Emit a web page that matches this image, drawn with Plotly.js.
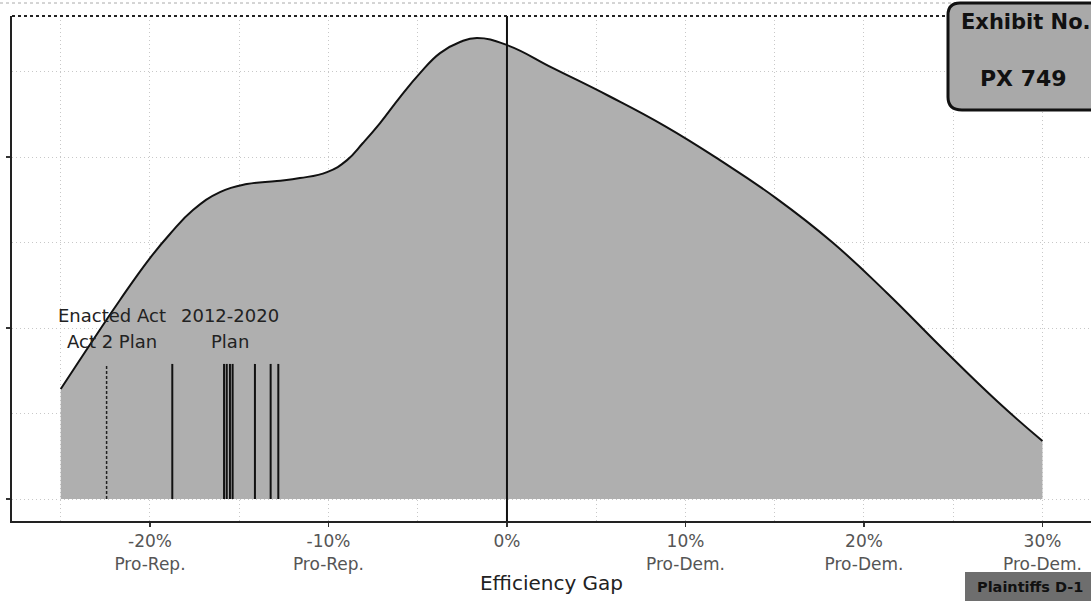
<!DOCTYPE html>
<html>
<head>
<meta charset="utf-8">
<script src="https://cdn.plot.ly/plotly-3.0.1.min.js"></script>
<style>html,body{margin:0;padding:0;background:#fff;}#chart{width:1091px;height:602px;}</style>
</head>
<body>
<div id="chart"></div>
<script>
// Efficiency gap (%) and density (per percentage point)
const gapX = [-25, -23.19, -21.68, -20.0, -18.88, -17.59, -16.08, -14.57, -12.89, -11.60, -10.08, -8.96, -8.07, -7.11, -5.99, -4.87, -3.75, -2.63, -1.68, 0, 2.58, 5.71, 8.85, 11.93, 15.07, 18.21, 21.29, 24.43, 27.51, 30.0];
const density = [0.00643, 0.00930, 0.01164, 0.01409, 0.01550, 0.01690, 0.01795, 0.01842, 0.01860, 0.01877, 0.01912, 0.01982, 0.02082, 0.02199, 0.02351, 0.02491, 0.02608, 0.02673, 0.02696, 0.02655, 0.02520, 0.02357, 0.02181, 0.01982, 0.01760, 0.01503, 0.01205, 0.00877, 0.00567, 0.00339];

// Plan efficiency gaps (vertical markers)
const enactedPlan = [-22.43];
const otherPlans = [-18.75, -15.85, -15.70, -15.52, -15.37, -14.12, -13.24, -12.81];
const markerTop = 0.0079;

// Axis ticks
const xTickVals = [-20, -10, 0, 10, 20, 30];
const xTickText = ['-20%<br>Pro-Rep.', '-10%<br>Pro-Rep.', '0%', '10%<br>Pro-Dem.', '20%<br>Pro-Dem.', '30%<br>Pro-Dem.'];
const xMinorVals = [-25, -15, -5, 5, 15, 25];
const yTickVals = [0, 0.01, 0.02];
const yMinorVals = [0.005, 0.015, 0.025];

function segs(xs, top) {
  const X = [], Y = [];
  xs.forEach(v => { X.push(v, v, null); Y.push(0, top, null); });
  return {X, Y};
}
const e = segs(enactedPlan, markerTop);
const o = segs(otherPlans, markerTop);

const traces = [
  {
    x: gapX, y: density, type: 'scatter', mode: 'lines',
    line: {color: '#111', width: 2, shape: 'spline', smoothing: 1.3},
    fill: 'tozeroy',
    fillcolor: '#b4b4b4',
    fillpattern: {shape: '.', fgcolor: '#4a4a4a', bgcolor: '#ffffff', size: 2, solidity: 0.5},
    hoverinfo: 'skip', showlegend: false
  },
  {
    x: e.X, y: e.Y, type: 'scatter', mode: 'lines',
    line: {color: '#222', width: 1.5, dash: '3px,2px'}, hoverinfo: 'skip', showlegend: false
  },
  {
    x: o.X, y: o.Y, type: 'scatter', mode: 'lines',
    line: {color: '#111', width: 2}, hoverinfo: 'skip', showlegend: false
  }
];

const L = 12, T = 16, W = 1079, H = 505;
const px = x => (x - L) / W;
const py = y => (T + H - y) / H;

const boxPath = `M ${px(948)},${py(15)} Q ${px(948)},${py(3)} ${px(960)},${py(3)} L ${px(1100)},${py(3)} L ${px(1100)},${py(110)} L ${px(962)},${py(110)} Q ${px(948)},${py(110)} ${px(948)},${py(97)} Z`;

const gridCol = '#c8c8c8';
const gridDash = '1px,3px';

const layout = {
  width: 1091, height: 602,
  margin: {l: L, r: 0, t: T, b: 602 - T - H},
  paper_bgcolor: '#ffffff', plot_bgcolor: '#ffffff',
  font: {family: 'DejaVu Sans, Arial, sans-serif', color: '#111'},
  xaxis: {
    range: [-27.73, 32.72],
    tickmode: 'array', tickvals: xTickVals, ticktext: xTickText,
    tickfont: {size: 17, color: '#555'},
    ticks: 'outside', ticklen: 4, tickcolor: '#333', tickwidth: 1.5,
    showgrid: true, gridcolor: gridCol, griddash: gridDash, gridwidth: 1,
    minor: {tickmode: 'array', tickvals: xMinorVals, showgrid: true, gridcolor: gridCol, griddash: gridDash, ticklen: 0},
    zeroline: false,
    showline: true, linecolor: '#222', linewidth: 2,
    title: {text: 'Efficiency Gap', font: {size: 20, color: '#222'}, standoff: 3},
    automargin: false, fixedrange: true
  },
  yaxis: {
    range: [-0.001287, 0.02825],
    tickmode: 'array', tickvals: yTickVals, showticklabels: false,
    ticks: 'outside', ticklen: 4, tickcolor: '#333', tickwidth: 1.5,
    showgrid: true, gridcolor: gridCol, griddash: gridDash, gridwidth: 1,
    minor: {tickmode: 'array', tickvals: yMinorVals, showgrid: true, gridcolor: gridCol, griddash: gridDash, ticklen: 0},
    zeroline: false,
    showline: true, linecolor: '#222', linewidth: 2,
    automargin: false, fixedrange: true
  },
  shapes: [
    {type: 'line', xref: 'x', yref: 'paper', x0: 0, x1: 0, y0: 0, y1: 1, line: {color: '#111', width: 2}, layer: 'above'},
    {type: 'line', xref: 'paper', yref: 'paper', x0: 0, x1: 1, y0: 1, y1: 1, line: {color: '#222', width: 2, dash: 'dot'}, layer: 'above'},
    {type: 'line', xref: 'paper', yref: 'paper', x0: px(0), x1: 1, y0: py(3), y1: py(3), line: {color: '#aaa', width: 1, dash: 'dot'}, layer: 'above'},
    {type: 'path', xref: 'paper', yref: 'paper', path: boxPath, fillcolor: '#a9a9a9', line: {color: '#111', width: 3}, layer: 'above'},
    {type: 'rect', xref: 'paper', yref: 'paper', x0: px(965), x1: px(1095), y0: py(601), y1: py(572), fillcolor: '#6e6e6e', line: {width: 0}, layer: 'above'}
  ],
  annotations: [
    {xref: 'x', yref: 'y', x: -22.1, y: 0.01076, text: 'Enacted Act', showarrow: false, font: {size: 18, color: '#222'}},
    {xref: 'x', yref: 'y', x: -22.1, y: 0.00924, text: 'Act 2 Plan', showarrow: false, font: {size: 18, color: '#222'}},
    {xref: 'x', yref: 'y', x: -15.52, y: 0.01076, text: '2012-2020', showarrow: false, font: {size: 18, color: '#222'}},
    {xref: 'x', yref: 'y', x: -15.52, y: 0.00924, text: 'Plan', showarrow: false, font: {size: 18, color: '#222'}},
    {xref: 'paper', yref: 'paper', x: px(1026), y: py(22), xanchor: 'center', yanchor: 'middle', text: '<b>Exhibit No.</b>', showarrow: false, font: {size: 21, color: '#111'}},
    {xref: 'paper', yref: 'paper', x: px(1023), y: py(78), xanchor: 'center', yanchor: 'middle', text: '<b>PX 749</b>', showarrow: false, font: {size: 22, color: '#111'}},
    {xref: 'paper', yref: 'paper', x: px(1030), y: py(587), xanchor: 'center', yanchor: 'middle', text: '<b>Plaintiffs D-1</b>', showarrow: false, font: {size: 14.5, color: '#111'}}
  ]
};

Plotly.newPlot('chart', traces, layout, {staticPlot: true, displayModeBar: false});
</script>
</body>
</html>
